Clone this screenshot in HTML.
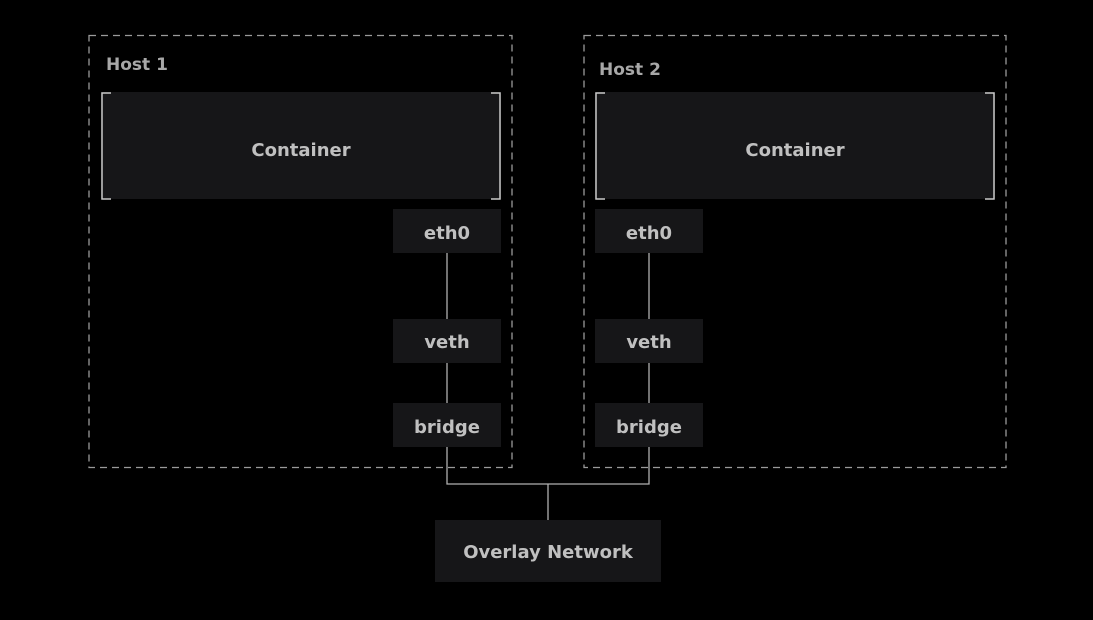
<!DOCTYPE html>
<html><head><style>html,body{margin:0;background:#000;}svg{display:block}</style></head>
<body>
<svg width="1093" height="620" viewBox="0 0 1093 620" xmlns="http://www.w3.org/2000/svg" font-family="DejaVu Sans, Liberation Sans, sans-serif" font-weight="bold">
<rect width="1093" height="620" fill="#000"/>
<g fill="none" stroke="#9a9a9a" stroke-width="1.3" stroke-dasharray="7,5">
<rect x="89" y="35.5" width="423" height="432"/>
<rect x="584" y="35.5" width="422" height="432"/>
</g>
<g fill="#a8a8a8" font-size="17">
<text x="106" y="70">Host 1</text>
<text x="599" y="75">Host 2</text>
</g>
<g fill="#161618">
<rect x="101" y="92" width="400" height="107"/>
<rect x="595" y="92" width="400" height="107"/>
<rect x="393" y="209" width="108" height="44"/>
<rect x="393" y="319" width="108" height="44"/>
<rect x="393" y="403" width="108" height="44"/>
<rect x="595" y="209" width="108" height="44"/>
<rect x="595" y="319" width="108" height="44"/>
<rect x="595" y="403" width="108" height="44"/>
<rect x="435" y="520" width="226" height="62"/>
</g>
<g fill="none" stroke="#c8c8c8" stroke-width="1.5">
<path d="M111 93H102V199H111M491 93H500V199H491"/>
<path d="M605 93H596V199H605M985 93H994V199H985"/>
</g>
<g fill="none" stroke="#b0b0b0" stroke-width="1.3">
<path d="M447 253V319M447 363V403M447 447V484H649V447M649 403V363M649 319V253M548 484V520"/>
</g>
<g fill="#c0c0c0" font-size="18" text-anchor="middle">
<text x="301" y="156">Container</text>
<text x="795" y="156">Container</text>
<text x="447" y="239">eth0</text>
<text x="447" y="348">veth</text>
<text x="447" y="433">bridge</text>
<text x="649" y="239">eth0</text>
<text x="649" y="348">veth</text>
<text x="649" y="433">bridge</text>
<text x="548" y="558">Overlay Network</text>
</g>
</svg>
</body></html>
